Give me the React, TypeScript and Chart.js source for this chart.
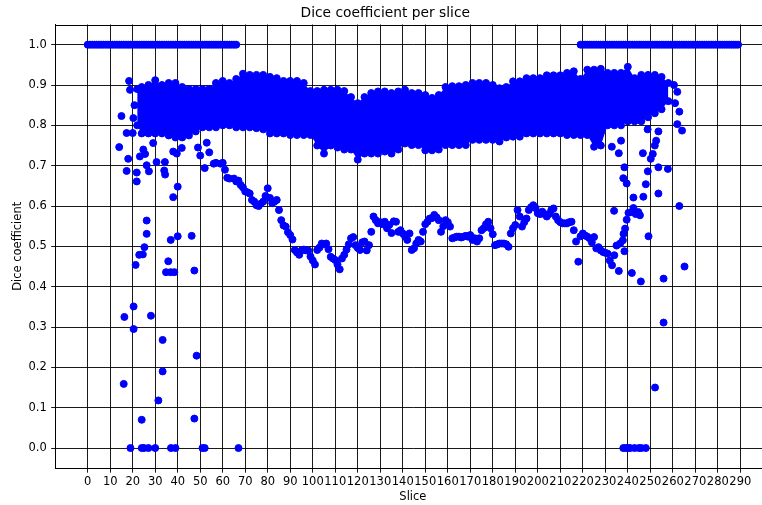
import { useEffect, useRef } from "react";
import { Chart, registerables } from "chart.js";

Chart.register(...registerables);

// ---- tick labels ----
const xTicks = [0, 10, 20, 30, 40, 50, 60, 70, 80, 90, 100, 110, 120, 130, 140, 150, 160, 170, 180, 190, 200, 210, 220, 230, 240, 250, 260, 270, 280, 290];
const yTicks = [0.0, 0.1, 0.2, 0.3, 0.4, 0.5, 0.6, 0.7, 0.8, 0.9, 1.0];

// ---- slices where dice == 1.0 (empty prediction & empty ground truth) ----
const perfectSliceRanges = [[0, 66], [219, 289]];
const perfectValue = 1.0;

// ---- slices with dice == 0.0 ----
const zeroSlices = [19, 24, 25, 27, 30, 37, 39, 51, 52, 67, 238, 239, 240, 241, 243, 245, 246, 248];

// ---- dense band of most volumes: upper and lower envelope (marker centres) ----
const bandSlices = [22, 24, 27, 30, 33, 36, 39, 42, 45, 48, 51, 54, 57, 60, 63, 66, 69, 72, 75, 78, 81, 84, 87, 90, 93, 96, 99, 102, 105, 108, 111, 114, 117, 120, 123, 126, 129, 132, 135, 138, 141, 144, 147, 150, 153, 156, 159, 162, 165, 168, 171, 174, 177, 180, 183, 186, 189, 192, 195, 198, 201, 204, 207, 210, 213, 216, 219, 222, 225, 228, 231, 234, 237, 240, 243, 246, 249, 252, 255, 258];
const bandTop = [0.89, 0.895, 0.9, 0.912, 0.9, 0.905, 0.905, 0.895, 0.89, 0.89, 0.89, 0.89, 0.905, 0.91, 0.905, 0.915, 0.928, 0.925, 0.925, 0.925, 0.92, 0.917, 0.91, 0.91, 0.91, 0.905, 0.885, 0.885, 0.888, 0.888, 0.888, 0.885, 0.87, 0.855, 0.87, 0.88, 0.884, 0.884, 0.88, 0.884, 0.888, 0.88, 0.88, 0.875, 0.868, 0.875, 0.895, 0.897, 0.897, 0.9, 0.905, 0.905, 0.905, 0.9, 0.892, 0.895, 0.909, 0.909, 0.917, 0.917, 0.917, 0.924, 0.924, 0.924, 0.93, 0.934, 0.915, 0.938, 0.938, 0.94, 0.93, 0.93, 0.93, 0.945, 0.917, 0.925, 0.925, 0.925, 0.92, 0.905];
const bandBottom = [0.8, 0.78, 0.78, 0.78, 0.78, 0.775, 0.77, 0.77, 0.775, 0.785, 0.795, 0.795, 0.795, 0.8, 0.8, 0.795, 0.795, 0.795, 0.793, 0.79, 0.78, 0.78, 0.78, 0.776, 0.776, 0.776, 0.776, 0.75, 0.73, 0.75, 0.745, 0.74, 0.74, 0.715, 0.73, 0.73, 0.73, 0.735, 0.73, 0.74, 0.755, 0.751, 0.751, 0.738, 0.738, 0.74, 0.751, 0.751, 0.751, 0.751, 0.764, 0.764, 0.764, 0.764, 0.76, 0.77, 0.772, 0.772, 0.78, 0.78, 0.78, 0.78, 0.78, 0.78, 0.776, 0.776, 0.776, 0.776, 0.747, 0.75, 0.8, 0.8, 0.8, 0.81, 0.81, 0.81, 0.82, 0.83, 0.84, 0.86];

// ---- one poorly segmented volume (lower track) ----
const trackSlices = [49, 50, 52, 54, 56, 57, 59, 60, 61, 62, 63, 65, 66, 67, 68, 69, 70, 71, 72, 73, 74, 75, 76, 77, 78, 79, 80, 81, 82, 83, 84, 85, 86, 87, 88, 89, 90, 91, 92, 93, 94, 95, 96, 97, 98, 99, 100, 101, 102, 103, 104, 105, 106, 107, 108, 109, 110, 111, 112, 113, 114, 115, 116, 117, 118, 119, 120, 121, 122, 123, 124, 125, 126, 127, 128, 129, 130, 131, 132, 133, 134, 135, 136, 137, 138, 139, 140, 141, 142, 143, 144, 145, 146, 147, 148, 149, 150, 151, 152, 153, 154, 155, 156, 157, 158, 159, 160, 161, 162, 163, 164, 165, 166, 167, 168, 169, 170, 171, 172, 173, 174, 175, 176, 177, 178, 179, 180, 181, 182, 183, 184, 185, 186, 187, 188, 189, 190, 191, 192, 193, 194, 195, 196, 197, 198, 199, 200, 201, 202, 203, 204, 205, 206, 207, 208, 209, 210, 211, 212, 213, 214, 215, 216, 217, 218, 219, 220, 221, 222, 223, 224, 225, 226, 227, 228, 229, 230, 231, 232, 233, 234, 235, 236];
const trackValues = [0.745, 0.725, 0.694, 0.733, 0.705, 0.707, 0.705, 0.707, 0.69, 0.67, 0.668, 0.668, 0.661, 0.663, 0.652, 0.646, 0.636, 0.634, 0.631, 0.615, 0.611, 0.602, 0.6, 0.606, 0.611, 0.625, 0.644, 0.62, 0.607, 0.611, 0.615, 0.59, 0.565, 0.552, 0.549, 0.535, 0.528, 0.517, 0.491, 0.485, 0.479, 0.49, 0.492, 0.49, 0.49, 0.475, 0.465, 0.455, 0.491, 0.497, 0.507, 0.505, 0.507, 0.493, 0.474, 0.47, 0.466, 0.455, 0.443, 0.47, 0.479, 0.492, 0.505, 0.52, 0.523, 0.503, 0.496, 0.491, 0.51, 0.512, 0.49, 0.503, 0.536, 0.574, 0.565, 0.557, 0.56, 0.555, 0.561, 0.545, 0.553, 0.533, 0.562, 0.561, 0.536, 0.54, 0.532, 0.525, 0.516, 0.532, 0.491, 0.495, 0.507, 0.516, 0.512, 0.536, 0.555, 0.561, 0.569, 0.57, 0.578, 0.572, 0.565, 0.536, 0.55, 0.565, 0.56, 0.549, 0.52, 0.522, 0.524, 0.524, 0.522, 0.524, 0.526, 0.524, 0.528, 0.516, 0.52, 0.512, 0.52, 0.54, 0.545, 0.555, 0.561, 0.545, 0.53, 0.503, 0.505, 0.507, 0.507, 0.507, 0.505, 0.499, 0.532, 0.545, 0.553, 0.59, 0.574, 0.549, 0.56, 0.569, 0.59, 0.597, 0.602, 0.595, 0.582, 0.58, 0.586, 0.58, 0.574, 0.58, 0.59, 0.594, 0.574, 0.565, 0.56, 0.557, 0.557, 0.557, 0.56, 0.561, 0.54, 0.512, 0.462, 0.525, 0.532, 0.527, 0.524, 0.52, 0.51, 0.523, 0.495, 0.498, 0.49, 0.486, 0.484, 0.482, 0.465, 0.453, 0.478, 0.502, 0.439];

// ---- scattered slices of other volumes ----
const outlierSlices = [14, 15, 16, 16.3, 17.3, 17.3, 18, 18.4, 18.8, 20, 20.3, 20.4, 20.4, 20.8, 21.3, 21.8, 21.8, 22.9, 23.2, 24, 24.5, 24.7, 25.2, 25.5, 26.2, 26.2, 26.2, 27.2, 28.1, 29.1, 30.6, 31.4, 33.3, 33.3, 34, 34.3, 34.4, 34.8, 35.8, 36.8, 36.9, 38, 38, 38.5, 39.6, 40, 40, 41.8, 46.2, 47.4, 47.4, 48.4, 52.9,
  232.9, 233.9, 236, 236.6, 237, 237.8, 238, 238.1, 238.5, 238.5, 238.8, 239.5, 239.5, 240.3, 241.8, 241.8, 242.5, 242.5, 243.5, 244.7, 245.4, 245.8, 246.7, 246.9, 248, 248.8, 248.9, 249.2, 250.2, 251.1, 252, 252.1, 252.6, 253.6, 253.6, 253.6, 255.9, 255.9, 257.8, 260.5, 261, 262, 262, 262.9, 262.9, 264.1, 265.2];
const outlierValues = [0.746, 0.823, 0.159, 0.325, 0.781, 0.687, 0.717, 0.91, 0.888, 0.781, 0.818, 0.351, 0.295, 0.85, 0.454, 0.683, 0.661, 0.479, 0.723, 0.07, 0.48, 0.74, 0.498, 0.729, 0.564, 0.531, 0.701, 0.686, 0.328, 0.756, 0.709, 0.118, 0.268, 0.19, 0.688, 0.709, 0.678, 0.436, 0.463, 0.436, 0.516, 0.735, 0.622, 0.436, 0.73, 0.648, 0.525, 0.744, 0.526, 0.073, 0.44, 0.229, 0.757,
  0.747, 0.588, 0.731, 0.507, 0.762, 0.515, 0.669, 0.531, 0.696, 0.488, 0.544, 0.656, 0.566, 0.583, 0.585, 0.434, 0.621, 0.595, 0.58, 0.585, 0.577, 0.413, 0.731, 0.623, 0.654, 0.79, 0.686, 0.525, 0.717, 0.729, 0.75, 0.15, 0.762, 0.785, 0.696, 0.631, 0.42, 0.311, 0.692, 0.9, 0.855, 0.883, 0.803, 0.834, 0.6, 0.787, 0.45];

const BLUE = "#0000ff";

const topFrame = {
  id: "topFrame",
  afterDraw(chart: any) {
    const { ctx, chartArea } = chart;
    ctx.save();
    ctx.strokeStyle = "#000";
    ctx.lineWidth = 1;
    ctx.beginPath();
    ctx.moveTo(chartArea.left, Math.round(chartArea.top) + 0.5);
    ctx.lineTo(chartArea.right, Math.round(chartArea.top) + 0.5);
    ctx.stroke();
    ctx.restore();
  },
};

export default function App() {
  const ref = useRef<HTMLCanvasElement>(null);

  useEffect(() => {
    if (!ref.current) return;
    Chart.defaults.font.family = "'DejaVu Sans', sans-serif";
    Chart.defaults.color = "#000";

    const perfectPts: { x: number; y: number }[] = [];
    for (const [a, b] of perfectSliceRanges) {
      for (let s = a; s <= b; s++) perfectPts.push({ x: s, y: perfectValue });
    }
    const zeroPts = zeroSlices.map((s) => ({ x: s, y: 0 }));
    const topPts = bandSlices.map((s, i) => ({ x: s, y: bandTop[i] }));
    const botPts = bandSlices.map((s, i) => ({ x: s, y: bandBottom[i] }));
    const trackPts = trackSlices.map((s, i) => ({ x: s, y: trackValues[i] }));
    const outPts = outlierSlices.map((s, i) => ({ x: s, y: outlierValues[i] }));

    const marker = {
      pointRadius: 3.5,
      pointHoverRadius: 3.5,
      pointBorderWidth: 1,
      pointBackgroundColor: BLUE,
      pointBorderColor: BLUE,
      borderColor: BLUE,
      backgroundColor: BLUE,
    };

    const chart = new Chart(ref.current, {
      type: "line",
      data: {
        datasets: [
          { data: topPts, ...marker, showLine: true, borderWidth: 0, fill: "+1" },
          { data: botPts, ...marker, showLine: true, borderWidth: 0, fill: false },
          { data: perfectPts, ...marker, showLine: false, fill: false },
          { data: zeroPts, ...marker, showLine: false, fill: false },
          { data: trackPts, ...marker, showLine: false, fill: false },
          { data: outPts, ...marker, showLine: false, fill: false },
        ] as any,
      },
      options: {
        animation: false,
        responsive: false,
        devicePixelRatio: 1,
        events: [],
        layout: { padding: { left: 0, right: 9.4, top: 0, bottom: 0 } },
        plugins: {
          legend: { display: false },
          tooltip: { enabled: false },
          title: {
            display: true,
            text: "Dice coefficient per slice",
            color: "#000",
            font: { size: 13.8, weight: "normal" as any },
            padding: { top: 5, bottom: 2.94 },
          },
        },
        scales: {
          x: {
            type: "linear",
            min: -14.44,
            max: 303.45,
            z: 1,
            afterBuildTicks: (s: any) => {
              s.ticks = xTicks.map((v) => ({ value: v }));
            },
            afterFit: (s: any) => {
              s.height = 36.8;
            },
            grid: { color: "#000", lineWidth: 0.9, tickLength: 4.5, drawTicks: true },
            border: { display: true, color: "#000", width: 1 },
            ticks: {
              autoSkip: false,
              maxRotation: 0,
              minRotation: 0,
              padding: 2.4,
              color: "#000",
              font: { size: 11.5 },
              callback: (v: any) => String(v),
            },
            title: {
              display: true,
              text: "Slice",
              color: "#000",
              font: { size: 11.5 },
              padding: { top: 0, bottom: 0.6 },
            },
          },
          y: {
            type: "linear",
            min: -0.05,
            max: 1.05,
            z: 1,
            afterBuildTicks: (s: any) => {
              s.ticks = yTicks.map((v) => ({ value: v }));
            },
            afterFit: (s: any) => {
              s.width = 55.2;
            },
            grid: { color: "#000", lineWidth: 0.9, tickLength: 4, drawTicks: true },
            border: { display: true, color: "#000", width: 1 },
            ticks: {
              padding: 4.5,
              color: "#000",
              font: { size: 11.5 },
              callback: (v: any) => Number(v).toFixed(1),
            },
            title: {
              display: true,
              text: "Dice coefficient",
              color: "#000",
              font: { size: 11.5 },
              padding: { top: 10.8, bottom: 0 },
            },
          },
        },
      } as any,
      plugins: [topFrame],
    });
    return () => chart.destroy();
  }, []);

  return (
    <div
      style={{
        position: "fixed",
        left: 0,
        top: 0,
        width: 762,
        height: 505,
        overflow: "hidden",
        background: "#fff",
      }}
    >
      <canvas ref={ref} width={780} height={505} style={{ width: 780, height: 505, display: "block" }} />
    </div>
  );
}
